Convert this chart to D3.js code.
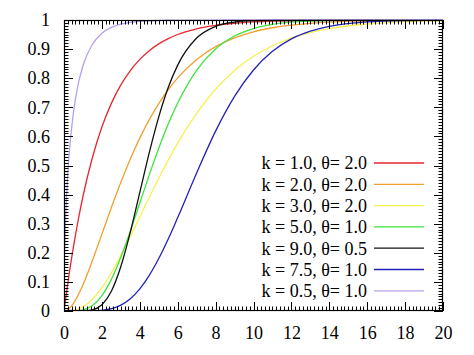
<!DOCTYPE html>
<html><head><meta charset="utf-8">
<script src="https://cdn.jsdelivr.net/npm/d3@7"></script>
<style>body{margin:0;background:#fff}svg{display:block}</style>
</head><body>
<script>
// x sample points
const xs = [0,0.02,0.05,0.1,0.25,0.5,0.75,1,1.5,2,2.5,3,3.5,4,4.5,5,5.5,6,7,8,9,10,11,12,13,14,16,18,20];
// series values (CDF) estimated at xs
const s_k1_t2 = [0,0.0100,0.0247,0.0488,0.1175,0.2212,0.3127,0.3935,0.5276,0.6321,0.7135,0.7769,0.8262,0.8647,0.8946,0.9179,0.9361,0.9502,0.9698,0.9817,0.9889,0.9933,0.9959,0.9975,0.9985,0.9991,0.9997,0.9999,1.0];
const s_k2_t2 = [0,0.0000,0.0003,0.0012,0.0072,0.0265,0.0550,0.0902,0.1734,0.2642,0.3554,0.4422,0.5221,0.5940,0.6575,0.7127,0.7603,0.8009,0.8641,0.9084,0.9389,0.9596,0.9734,0.9826,0.9887,0.9927,0.9970,0.9988,0.9995];
const s_k3_t2 = [0,0,0,0.0000,0.0003,0.0022,0.0067,0.0144,0.0405,0.0803,0.1315,0.1912,0.2560,0.3233,0.3907,0.4562,0.5185,0.5768,0.6792,0.7619,0.8264,0.8753,0.9116,0.9380,0.9570,0.9704,0.9862,0.9938,0.9972];
const s_k5_t1 = [0,0,0,0,0.0000,0.0002,0.0011,0.0037,0.0186,0.0527,0.1088,0.1847,0.2746,0.3712,0.4679,0.5595,0.6425,0.7149,0.8270,0.9004,0.9450,0.9707,0.9849,0.9924,0.9963,0.9982,0.9996,0.9999,1.0];
const s_k9_t05 = [0,0,0,0,0,0.0000,0.0000,0.0002,0.0038,0.0214,0.0681,0.1528,0.2709,0.4075,0.5443,0.6672,0.7680,0.8450,0.9379,0.9781,0.9929,0.9979,0.9994,0.9998,1.0,1.0,1.0,1.0,1.0];
const s_k75_t1 = [0,0,0,0,0,0,0,0.0000,0.0004,0.0023,0.0079,0.0203,0.0424,0.0762,0.1225,0.1803,0.2474,0.3210,0.4744,0.6180,0.7373,0.8281,0.8922,0.9349,0.9615,0.9781,0.9935,0.9982,0.9995];
const s_k05_t1 = [0,0.1585,0.2482,0.3452,0.5205,0.6827,0.7793,0.8427,0.9167,0.9545,0.9747,0.9857,0.9918,0.9953,0.9973,0.9984,0.9991,0.9995,0.9998,0.9999,1.0,1.0,1.0,1.0,1.0,1.0,1.0,1.0,1.0];
const seriesLabels = ["k = 1.0, \u03b8= 2.0","k = 2.0, \u03b8= 2.0","k = 3.0, \u03b8= 2.0","k = 5.0, \u03b8= 1.0","k = 9.0, \u03b8= 0.5","k = 7.5, \u03b8= 1.0","k = 0.5, \u03b8= 1.0"];
const seriesValues = [s_k1_t2,s_k2_t2,s_k3_t2,s_k5_t1,s_k9_t05,s_k75_t1,s_k05_t1];
const colors = ["#e8262e","#f0a030","#f8f050","#3fe33f","#111111","#2222bb","#b8a0ee"];
const xTicks = [0,2,4,6,8,10,12,14,16,18,20];
const yTicks = [0,0.1,0.2,0.3,0.4,0.5,0.6,0.7,0.8,0.9,1];

const FONT = "'Liberation Serif'";
const W=474,H=355, L=64,R=443,T=20,B=311;
const svg=d3.select("body").append("svg").attr("width",W).attr("height",H);
const x=d3.scaleLinear().domain([0,20]).range([L,R]);
const y=d3.scaleLinear().domain([0,1]).range([B,T]);

// curves
svg.append("clipPath").attr("id","c").append("rect").attr("x",L).attr("y",T-1).attr("width",R-L).attr("height",B-T+1);
const line=d3.line().x((d,i)=>x(xs[i])).y(d=>y(d)).curve(d3.curveMonotoneX);
const g=svg.append("g").attr("clip-path","url(#c)");
seriesValues.forEach((vals,i)=>{
  g.append("path").attr("d",line(vals)).attr("fill","none").attr("stroke",colors[i]).attr("stroke-width",1.3);
});

// ticks on four sides, drawn inward
const tk=svg.append("g").attr("stroke","#000").attr("stroke-width",1);
const xMinor=d3.range(0,20.001,0.2);
const yMinor=d3.range(0,1.0001,0.01);
xMinor.forEach(v=>{
  const major=Math.abs(v/2-Math.round(v/2))<1e-6;
  const len=major?9:4.5; const px=Math.round(x(v))+0.5;
  tk.append("line").attr("x1",px).attr("x2",px).attr("y1",B).attr("y2",B-len);
  tk.append("line").attr("x1",px).attr("x2",px).attr("y1",T).attr("y2",T+len);
});
yMinor.forEach(v=>{
  const major=Math.abs(v*10-Math.round(v*10))<1e-6;
  const len=major?9:4.5; const py=Math.round(y(v))+0.5;
  tk.append("line").attr("y1",py).attr("y2",py).attr("x1",L).attr("x2",L+len);
  tk.append("line").attr("y1",py).attr("y2",py).attr("x1",R).attr("x2",R-len);
});
svg.append("rect").attr("x",L+0.5).attr("y",T+0.5).attr("width",R-L-1).attr("height",B-T-1).attr("fill","none").attr("stroke","#000").attr("stroke-width",1.2);

// axes labels via d3 axes (tick lines hidden)
const ax=svg.append("g").attr("transform",`translate(0,${B})`).call(d3.axisBottom(x).tickValues(xTicks).tickSize(0).tickPadding(15).tickFormat(d3.format("d")));
const ay=svg.append("g").attr("transform",`translate(${L},0)`).call(d3.axisLeft(y).tickValues(yTicks).tickSize(0).tickPadding(14).tickFormat(d=>d===0||d===1?String(d):d3.format(".1f")(d)));
[ax,ay].forEach(a=>{a.select(".domain").remove();a.selectAll("text").style("font-family",FONT).style("font-size","18px").attr("fill","#000");});

// legend
const lg=svg.append("g");
seriesLabels.forEach((lab,i)=>{
  const yy=163+i*21.3;
  lg.append("text").attr("x",367).attr("y",yy).attr("dy","0.35em").attr("text-anchor","end").style("font-size","18px").style("font-family",FONT).text(lab);
  lg.append("line").attr("x1",374).attr("x2",424).attr("y1",yy).attr("y2",yy).attr("stroke",colors[i]).attr("stroke-width",1.3);
});
</script>
</body></html>
